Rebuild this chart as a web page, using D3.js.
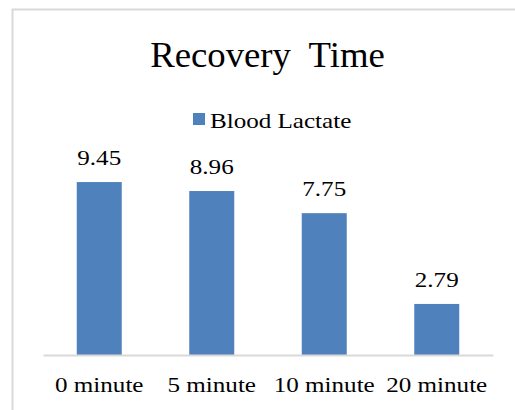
<!DOCTYPE html>
<html>
<head>
<meta charset="utf-8">
<script src="https://cdn.jsdelivr.net/npm/d3@7"></script>
<style>
  body { margin: 0; background: #fff; }
  text { font-family: "Liberation Serif", "Times New Roman", serif; fill: #000; }
</style>
</head>
<body>
<div id="chart"></div>
<script>
const categories = ["0 minute", "5 minute", "10 minute", "20 minute"];
const values = [9.45, 8.96, 7.75, 2.79];
const seriesName = "Blood Lactate";
const chartTitle = "Recovery  Time";

const width = 515, height = 410;
const margin = { top: 172, right: 22, bottom: 55, left: 43 };

const svg = d3.select("#chart").append("svg")
    .attr("width", width)
    .attr("height", height);

// chart frame
svg.append("rect")
    .attr("x", 12.5)
    .attr("y", 9.5)
    .attr("width", width + 20)
    .attr("height", height + 20)
    .attr("fill", "none")
    .attr("stroke", "#d9d9d9")
    .attr("stroke-width", 2);

const x = d3.scaleBand()
    .domain(categories)
    .range([margin.left, width - margin.right])
    .paddingInner(0.6)
    .paddingOuter(0.3);

const y = d3.scaleLinear()
    .domain([0, 10])
    .range([height - margin.bottom, margin.top]);

const stretch = 1.14;

// title
svg.append("text")
    .attr("transform", "translate(" + (width / 2 + 10) + ",67) scale(1.05,1)")
    .attr("text-anchor", "middle")
    .attr("font-size", 35)
    .style("white-space", "pre")
    .text(chartTitle);

// legend
const legend = svg.append("g");
legend.append("rect")
    .attr("x", 193)
    .attr("y", 113)
    .attr("width", 12)
    .attr("height", 12)
    .attr("fill", "#4f81bd");
legend.append("text")
    .attr("transform", "translate(210,128) scale(" + stretch + ",1)")
    .attr("font-size", 22)
    .text(seriesName);

// bars
svg.selectAll(".bar")
    .data(values)
    .enter().append("rect")
    .attr("class", "bar")
    .attr("x", (d, i) => x(categories[i]))
    .attr("y", d => y(d))
    .attr("width", x.bandwidth())
    .attr("height", d => y(0) - y(d))
    .attr("fill", "#4f81bd");

// value labels
svg.selectAll(".value")
    .data(values)
    .enter().append("text")
    .attr("class", "value")
    .attr("text-anchor", "middle")
    .attr("font-size", 22)
    .attr("transform", (d, i) => "translate(" + (x(categories[i]) + x.bandwidth() / 2) + "," + (y(d) - 17) + ") scale(" + stretch + ",1)")
    .text(d => d.toFixed(2));

// x axis
const xAxis = svg.append("g")
    .attr("transform", "translate(0," + y(0) + ")")
    .call(d3.axisBottom(x).tickSize(0).tickPadding(0));
xAxis.select(".domain")
    .attr("stroke", "#d9d9d9")
    .attr("stroke-width", 2);
xAxis.selectAll(".tick text")
    .attr("font-size", 22)
    .attr("font-family", "Liberation Serif, serif")
    .attr("fill", "#000")
    .attr("y", 0)
    .attr("dy", 0)
    .attr("transform", "translate(0,37) scale(" + stretch + ",1)");
</script>
</body>
</html>
